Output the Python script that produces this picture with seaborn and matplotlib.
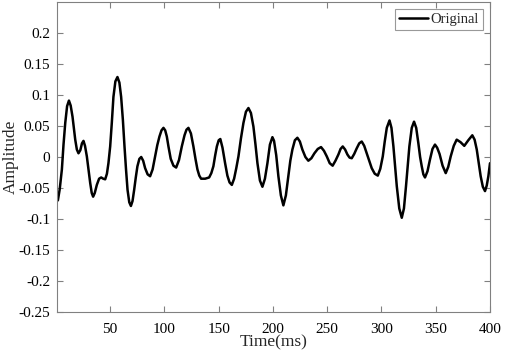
import matplotlib
matplotlib.use("Agg")
import matplotlib.pyplot as plt
import seaborn as sns
import pandas as pd

time_ms = [1.8, 3.5, 5.5, 7.0, 8.6, 10.3, 12.0, 13.6, 15.3, 17.8, 19.3, 20.8, 22.5, 24.0, 25.4, 26.8,
           28.5, 31.6, 33.0, 34.3, 35.8, 37.7, 39.8, 41.7, 43.6, 45.4, 47.0, 48.4, 50.0, 51.5, 53.0,
           54.8, 56.7, 58.5, 60.1, 61.7, 63.2, 64.6, 66.0, 67.6, 69.1, 70.6, 72.1, 73.6, 75.1, 76.9,
           78.6, 80.4, 82.2, 84.5, 86.8, 89.1, 91.4, 93.4, 95.4, 97.3, 99.1, 100.7, 102.2, 103.7,
           105.8, 108.3, 110.8, 113.4, 116.0, 118.5, 120.3, 122.1, 124.4, 126.7, 128.6, 130.4, 132.1,
           133.8, 137.5, 139.5, 141.2, 143.2, 145.1, 146.7, 148.3, 150.0, 151.5, 153.5, 155.9, 158.0,
           160.0, 162.1, 164.2, 166.2, 168.2, 170.5, 172.8, 175.1, 177.4, 179.7, 182.0, 183.9, 185.7,
           188.0, 190.3, 192.6, 194.9, 197.2, 199.5, 201.0, 203.0, 205.0, 207.3, 209.6, 211.9, 214.2,
           216.0, 217.9, 220.2, 222.5, 224.8, 227.1, 229.9, 232.6, 235.4, 238.2, 241.3, 244.3, 247.0,
           249.6, 252.3, 255.0, 257.6, 260.3, 262.3, 264.3, 266.5, 268.6, 270.6, 272.6, 274.9, 277.2,
           279.5, 281.8, 284.1, 286.4, 288.7, 291.0, 293.8, 296.6, 298.9, 301.2, 303.0, 304.9, 307.4,
           309.2, 311.0, 312.6, 314.1, 316.4, 318.7, 320.7, 322.6, 324.2, 325.7, 327.9, 330.0, 332.0,
           334.0, 335.6, 337.1, 338.6, 340.1, 342.4, 344.7, 347.0, 349.3, 351.3, 353.5, 356.3, 359.2,
           361.5, 363.8, 366.6, 369.3, 372.8, 376.3, 380.0, 383.7, 385.8, 387.8, 389.6, 391.4, 393.4,
           395.4, 397.0, 398.5, 400.0]
amplitude = [-0.070, -0.052, -0.020, 0.020, 0.055, 0.082, 0.091, 0.083, 0.065, 0.028, 0.012, 0.006,
             0.011, 0.022, 0.026, 0.018, 0.001, -0.042, -0.058, -0.064, -0.058, -0.045, -0.035, -0.033,
             -0.035, -0.036, -0.027, -0.010, 0.017, 0.055, 0.097, 0.122, 0.129, 0.120, 0.097, 0.060,
             0.017, -0.020, -0.053, -0.073, -0.079, -0.071, -0.053, -0.033, -0.015, -0.003, 0.000,
             -0.006, -0.018, -0.028, -0.031, -0.020, 0.001, 0.019, 0.033, 0.043, 0.047, 0.043, 0.033,
             0.017, -0.003, -0.014, -0.017, -0.005, 0.017, 0.035, 0.044, 0.047, 0.038, 0.017, -0.003,
             -0.020, -0.030, -0.035, -0.035, -0.034, -0.033, -0.026, -0.015, 0.002, 0.017, 0.027,
             0.029, 0.015, -0.010, -0.030, -0.041, -0.045, -0.035, -0.018, 0.001, 0.030, 0.055, 0.073,
             0.079, 0.071, 0.049, 0.020, -0.010, -0.038, -0.048, -0.035, -0.010, 0.020, 0.032, 0.026,
             0.003, -0.031, -0.062, -0.078, -0.062, -0.031, -0.006, 0.012, 0.027, 0.031, 0.025, 0.012,
             0.000, -0.006, -0.002, 0.006, 0.013, 0.016, 0.010, 0.001, -0.010, -0.014, -0.006, 0.004,
             0.013, 0.017, 0.012, 0.004, -0.001, -0.002, 0.005, 0.014, 0.022, 0.025, 0.018, 0.006,
             -0.006, -0.018, -0.027, -0.030, -0.019, 0.001, 0.025, 0.047, 0.059, 0.047, 0.017, -0.015,
             -0.047, -0.083, -0.098, -0.083, -0.047, -0.013, 0.017, 0.047, 0.057, 0.047, 0.022, 0.000,
             -0.015, -0.028, -0.033, -0.023, -0.004, 0.013, 0.020, 0.015, 0.005, -0.014, -0.026,
             -0.016, 0.001, 0.018, 0.028, 0.024, 0.018, 0.027, 0.035, 0.028, 0.012, -0.010, -0.031,
             -0.048, -0.055, -0.046, -0.031, -0.010]

x_ticks = [50, 100, 150, 200, 250, 300, 350, 400]
y_ticks = [-0.25, -0.2, -0.15, -0.1, -0.05, 0, 0.05, 0.1, 0.15, 0.2]
y_tick_labels = ["-0.25", "-0.2", "-0.15", "-0.1", "-0.05", "0", "0.05", "0.1", "0.15", "0.2"]

sns.set_theme(style="white")
plt.rcParams['font.family'] = ['Liberation Serif', 'DejaVu Serif']

df = pd.DataFrame({"Time(ms)": time_ms, "Amplitude": amplitude})

fig = plt.figure(figsize=(5.05, 3.56), dpi=100)
ax = fig.add_axes([57 / 505, 1 - 312 / 356, (490 - 57) / 505, (312 - 2) / 356])
sns.lineplot(data=df, x="Time(ms)", y="Amplitude", color="black", linewidth=1.8,
             label="Original", ax=ax, solid_joinstyle="round", solid_capstyle="round")

ax.set_xlim(1, 400)
ax.set_ylim(-0.25, 0.25)
ax.set_xticks(x_ticks)
ax.set_xticklabels([str(t) for t in x_ticks])
ax.set_yticks(y_ticks)
ax.set_yticklabels(y_tick_labels)
ax.tick_params(direction="in", length=4, width=0.8, colors="#808080", labelcolor="black",
               labelsize=11, top=True, right=True, bottom=True, left=True)
ax.tick_params(axis="x", pad=8)
ax.tick_params(axis="y", pad=5)
for s in ax.spines.values():
    s.set_color("#808080")
    s.set_linewidth(0.8)
ax.set_xlabel("Time(ms)", fontsize=12.5, labelpad=-1)
ax.set_ylabel("Amplitude", fontsize=12.5)
ax.yaxis.set_label_coords(-0.088, 0.5)

leg = ax.legend(loc="upper right", fontsize=10.5, frameon=True, fancybox=False,
                borderpad=0.25, handlelength=2.0, handletextpad=0.2,
                borderaxespad=0.5)
leg.get_frame().set_edgecolor("#808080")
leg.get_frame().set_linewidth(0.8)

fig.savefig("out.png", dpi=100)
